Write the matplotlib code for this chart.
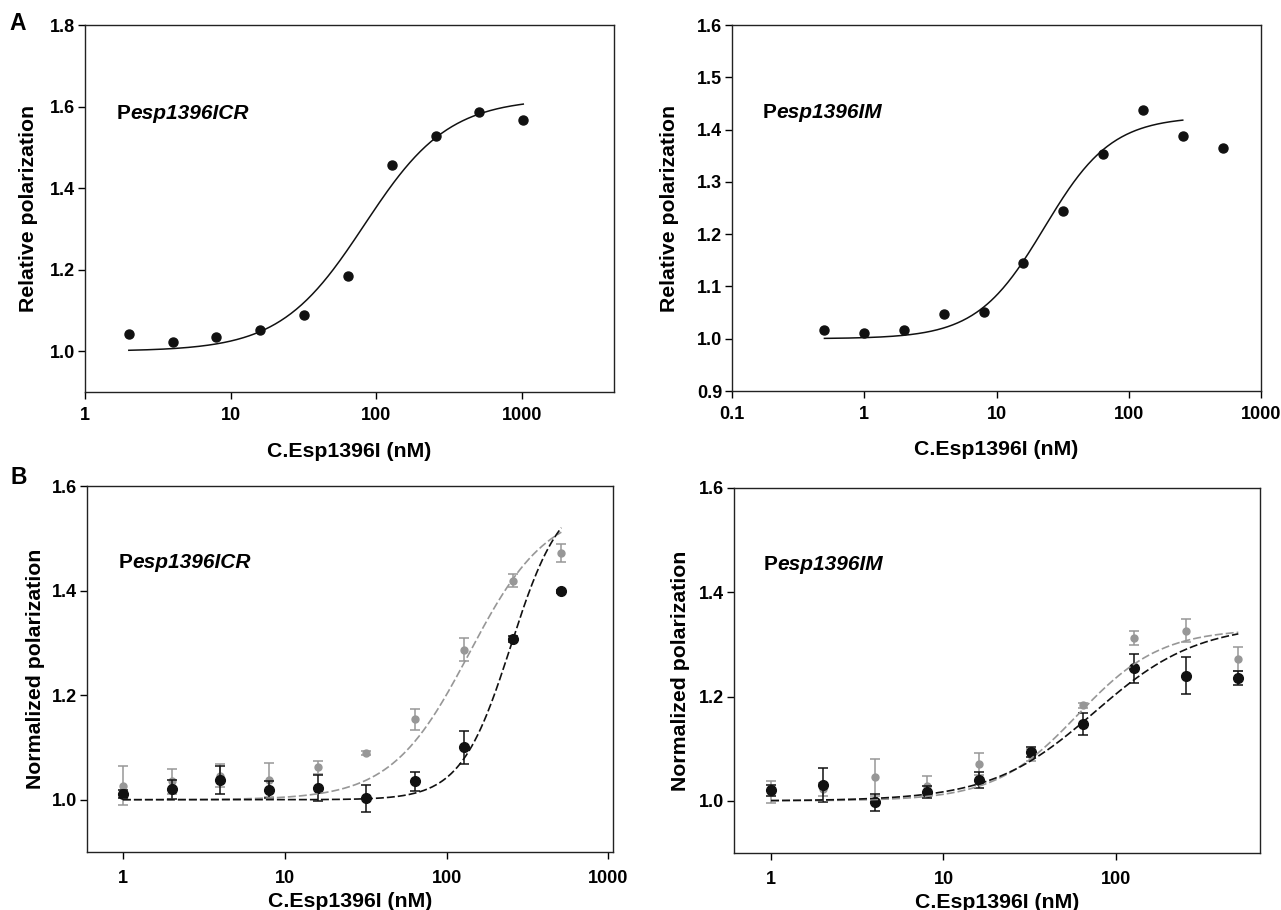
import numpy as np
import matplotlib
matplotlib.use("Agg")
import matplotlib.pyplot as plt
from matplotlib.ticker import FixedLocator, NullLocator

plt.rcParams['font.family'] = ['Liberation Sans', 'DejaVu Sans']
plt.rcParams['font.weight'] = 'bold'

# ---------------- data ----------------
# Panel A, left: Pesp1396ICR
a_icr_conc = [2, 4, 8, 16, 32, 64, 128, 256, 512, 1024]
a_icr_pol = [1.043, 1.023, 1.034, 1.053, 1.088, 1.184, 1.456, 1.528, 1.586, 1.567]
a_icr_fit = dict(bottom=1.0, top=1.62, ec50=83.0, hill=1.5)

# Panel A, right: Pesp1396IM
a_im_conc = [0.5, 1, 2, 4, 8, 16, 32, 64, 128, 256, 512]
a_im_pol = [1.017, 1.010, 1.016, 1.047, 1.052, 1.144, 1.244, 1.354, 1.438, 1.387, 1.364]
a_im_fit = dict(bottom=1.0, top=1.425, ec50=23.0, hill=1.7)
a_im_fit_max = 256

# Panel B concentrations
b_conc = [1, 2, 4, 8, 16, 32, 64, 128, 256, 512]

# Panel B, left: Pesp1396ICR
b_icr_black = [1.011, 1.020, 1.037, 1.019, 1.022, 1.003, 1.035, 1.100, 1.307, 1.399]
b_icr_black_err = [0.008, 0.018, 0.027, 0.016, 0.025, 0.026, 0.018, 0.031, 0.006, 0.003]
b_icr_gray = [1.027, 1.035, 1.046, 1.038, 1.062, 1.089, 1.154, 1.287, 1.419, 1.472]
b_icr_gray_err = [0.037, 0.024, 0.022, 0.033, 0.012, 0.004, 0.020, 0.022, 0.012, 0.017]
b_icr_black_fit = dict(bottom=1.0, top=1.59, ec50=250.0, hill=2.8)
b_icr_gray_fit = dict(bottom=1.0, top=1.56, ec50=138.0, hill=1.8)

# Panel B, right: Pesp1396IM
b_im_black = [1.020, 1.030, 0.997, 1.017, 1.040, 1.094, 1.147, 1.254, 1.240, 1.236]
b_im_black_err = [0.011, 0.033, 0.017, 0.011, 0.016, 0.010, 0.021, 0.028, 0.035, 0.013]
b_im_gray = [1.017, 1.022, 1.045, 1.028, 1.070, 1.088, 1.183, 1.312, 1.326, 1.273]
b_im_gray_err = [0.022, 0.012, 0.036, 0.019, 0.021, 0.012, 0.005, 0.014, 0.022, 0.023]
b_im_black_fit = dict(bottom=1.0, top=1.34, ec50=75.0, hill=1.45)
b_im_gray_fit = dict(bottom=1.0, top=1.33, ec50=60.0, hill=1.8)

GRAY = '#979797'
BLACK = '#111111'


def hill(x, bottom, top, ec50, hill):
    x = np.asarray(x, dtype=float)
    return bottom + (top - bottom) / (1.0 + (ec50 / x) ** hill)


def fit_x(lo, hi):
    return np.logspace(np.log10(lo), np.log10(hi), 300)


W, H = 1281, 910
fig = plt.figure(figsize=(W / 100, H / 100), dpi=100)


def make_ax(x0, y0, x1, y1):
    return fig.add_axes([x0 / W, 1 - y1 / H, (x1 - x0) / W, (y1 - y0) / H])


TICK_FS = 13
LABEL_FS = 15.3
INSET_FS = 15


def style_ax(ax, xticks, xlabels, yticks, ylabels, xlim, ylim, ylabel, ylab_x, xlab_y, xpad):
    ax.set_xscale('log')
    ax.set_xlim(*xlim)
    ax.set_ylim(*ylim)
    ax.xaxis.set_major_locator(FixedLocator(xticks))
    ax.xaxis.set_minor_locator(NullLocator())
    ax.set_xticklabels(xlabels)
    ax.set_yticks(yticks)
    ax.set_yticklabels(ylabels)
    ax.tick_params(axis='x', direction='out', length=5, width=1, labelsize=TICK_FS, pad=xpad)
    ax.tick_params(axis='y', direction='out', length=5, width=1, labelsize=TICK_FS, pad=2)
    for lab in ax.get_xticklabels() + ax.get_yticklabels():
        lab.set_fontweight('bold')
    for s in ax.spines.values():
        s.set_linewidth(1.0)
        s.set_color('#222222')
    ax.set_ylabel(ylabel, fontsize=LABEL_FS, fontweight='bold')
    ax.set_xlabel('C.Esp1396I (nM)', fontsize=LABEL_FS, fontweight='bold')
    ax.yaxis.set_label_coords(ylab_x, 0.5)
    ax.xaxis.set_label_coords(0.5, xlab_y)


def inset_label(ax, x, y, rest):
    t = ax.text(x, y, 'P', transform=ax.transAxes, fontsize=INSET_FS, fontweight='bold',
                ha='left', va='center')
    ax.annotate(rest, xy=(1, 0), xycoords=t, fontsize=INSET_FS, fontweight='bold',
                fontstyle='italic', ha='left', va='bottom')


# ---------- Panel A left ----------
ax1 = make_ax(85, 25, 614, 392)
ax1.plot(a_icr_conc, a_icr_pol, 'o', color=BLACK, ms=6.5, zorder=3)
xf = fit_x(a_icr_conc[0], a_icr_conc[-1])
ax1.plot(xf, hill(xf, **a_icr_fit), '-', color=BLACK, lw=1.1)
style_ax(ax1, [1, 10, 100, 1000], ['1', '10', '100', '1000'],
         [1.0, 1.2, 1.4, 1.6, 1.8], ['1.0', '1.2', '1.4', '1.6', '1.8'],
         (1, 4300), (0.9, 1.8), 'Relative polarization', -0.088, -0.135, 6)
inset_label(ax1, 0.06, 0.76, 'esp1396ICR')

# ---------- Panel A right ----------
ax2 = make_ax(732, 25, 1261, 391)
ax2.plot(a_im_conc, a_im_pol, 'o', color=BLACK, ms=6.5, zorder=3)
xf = fit_x(a_im_conc[0], a_im_fit_max)
ax2.plot(xf, hill(xf, **a_im_fit), '-', color=BLACK, lw=1.1)
style_ax(ax2, [0.1, 1, 10, 100, 1000], ['0.1', '1', '10', '100', '1000'],
         [0.9, 1.0, 1.1, 1.2, 1.3, 1.4, 1.5, 1.6],
         ['0.9', '1.0', '1.1', '1.2', '1.3', '1.4', '1.5', '1.6'],
         (0.1, 1000), (0.9, 1.6), 'Relative polarization', -0.10, -0.135, 6)
inset_label(ax2, 0.058, 0.76, 'esp1396IM')

DASH = (0, (4.8, 1.8))


def panel_b(ax, black, black_err, gray, gray_err, black_fit, gray_fit):
    ax.errorbar(b_conc, gray, yerr=gray_err, fmt='o', color=GRAY, ecolor=GRAY, ms=5,
                capsize=3.5, elinewidth=1.1, capthick=1.1, zorder=3)
    ax.errorbar(b_conc, black, yerr=black_err, fmt='o', color=BLACK, ecolor=BLACK, ms=7,
                capsize=3.5, elinewidth=1.1, capthick=1.1, zorder=4)
    xf = fit_x(b_conc[0], b_conc[-1])
    ax.plot(xf, hill(xf, **gray_fit), color=GRAY, lw=1.2, linestyle=DASH, zorder=5)
    ax.plot(xf, hill(xf, **black_fit), color=BLACK, lw=1.2, linestyle=DASH, zorder=5)


# ---------- Panel B left ----------
ax3 = make_ax(87, 486, 613, 852)
panel_b(ax3, b_icr_black, b_icr_black_err, b_icr_gray, b_icr_gray_err,
        b_icr_black_fit, b_icr_gray_fit)
style_ax(ax3, [1, 10, 100, 1000], ['1', '10', '100', '1000'],
         [1.0, 1.2, 1.4, 1.6], ['1.0', '1.2', '1.4', '1.6'],
         (0.6, 1068), (0.9, 1.6), 'Normalized polarization', -0.079, -0.109, 8)
inset_label(ax3, 0.06, 0.79, 'esp1396ICR')

# ---------- Panel B right ----------
ax4 = make_ax(734, 488, 1260, 853)
panel_b(ax4, b_im_black, b_im_black_err, b_im_gray, b_im_gray_err,
        b_im_black_fit, b_im_gray_fit)
style_ax(ax4, [1, 10, 100], ['1', '10', '100'],
         [1.0, 1.2, 1.4, 1.6], ['1.0', '1.2', '1.4', '1.6'],
         (0.61, 684), (0.9, 1.6), 'Normalized polarization', -0.083, -0.109, 8)
inset_label(ax4, 0.057, 0.79, 'esp1396IM')

# panel letters
fig.text(18 / W, 1 - 23 / H, 'A', fontsize=16.5, fontweight='bold', ha='center', va='center')
fig.text(19 / W, 1 - 478 / H, 'B', fontsize=16.5, fontweight='bold', ha='center', va='center')

fig.savefig('out.png', dpi=100)
